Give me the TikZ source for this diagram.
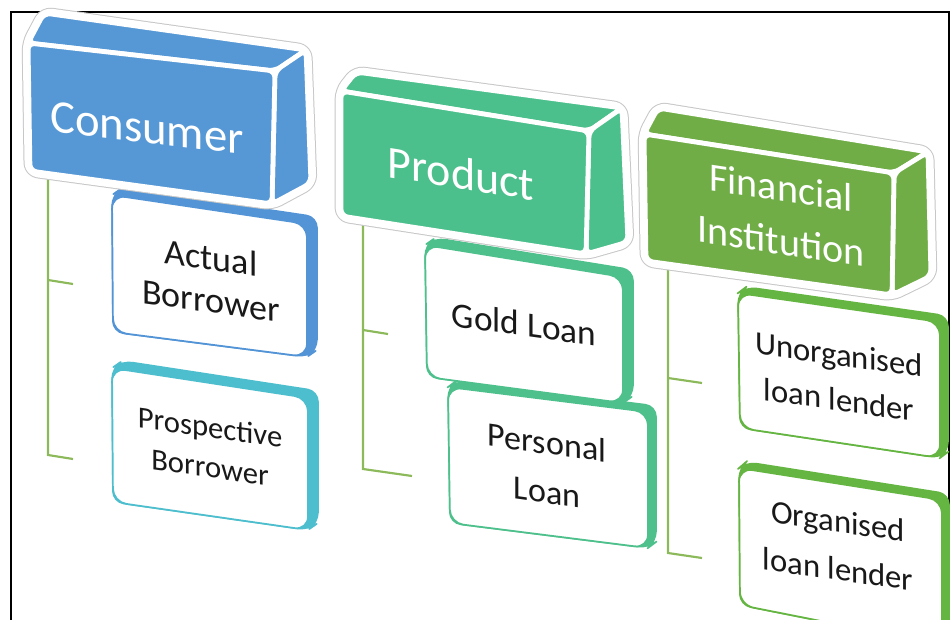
\documentclass[tikz,border=0pt]{standalone}
\usepackage{fontspec}
\setmainfont{Carlito}
\usetikzlibrary{calc}

\definecolor{consumerblue}{RGB}{86,152,214}
\definecolor{productgreen}{RGB}{76,192,140}
\definecolor{instgreen}{RGB}{112,173,71}
\definecolor{leafblue}{RGB}{82,148,214}
\definecolor{leafteal}{RGB}{77,190,205}
\definecolor{leafmint}{RGB}{78,192,140}
\definecolor{leafgreen}{RGB}{100,181,65}
\definecolor{linkgreen}{RGB}{140,185,90}
\definecolor{inktext}{RGB}{25,25,25}

% 3D header block: colour, front TL, front TR, front BR, front BL, back TL, back TR, back BR
% (each closed outline starts half-way along an edge so every corner is rounded)
\newcommand{\cubehead}[8]{%
  \draw[headhalo] ($#5!0.5!#2$) -- #2 -- #6 -- #7 -- #8 -- #4 -- #5 -- cycle;
  \draw[headwhite] ($#5!0.5!#2$) -- #2 -- #6 -- #7 -- #8 -- #4 -- #5 -- cycle;
  \filldraw[headface,fill=#1] ($#2!0.5!#3$) -- #2 -- #6 -- #7 -- #3 -- cycle;
  \filldraw[headface,fill=#1] ($#3!0.5!#4$) -- #3 -- #7 -- #8 -- #4 -- cycle;
  \filldraw[headface,fill=#1] ($#2!0.5!#3$) -- #3 -- #4 -- #5 -- #2 -- cycle;
}
% shallow 3D child card: colour, TL, TR, BR, BL, depth offset
\newcommand{\leafcard}[6]{%
  \filldraw[leafback,fill=#1,draw=#1] ($#5!0.5!#2$) -- #2 -- ($#2+#6$) -- ($#3+#6$) -- ($#4+#6$) -- #4 -- #5 -- cycle;
  \filldraw[leafface,draw=#1] ($#2!0.5!#3$) -- #3 -- #4 -- #5 -- #2 -- cycle;
}

\begin{document}
\begin{tikzpicture}[x=0.75pt,y=-0.75pt,
  headhalo/.style={draw=black!22,fill=white,line width=9.5pt,line join=round,rounded corners=6pt},
  headwhite/.style={draw=white,fill=white,line width=8pt,line join=round,rounded corners=6pt},
  headface/.style={draw=white,line width=3.6pt,line join=round,rounded corners=5pt},
  leafback/.style={line width=1.2pt,line join=round,rounded corners=8pt},
  leafface/.style={fill=white,line width=1.3pt,line join=round,rounded corners=10pt},
  headtext/.style={text=white,align=center,inner sep=0pt},
  leaftext/.style={text=inktext,align=center,inner sep=0pt},
  link/.style={draw=linkgreen,line width=1.6pt}]

\useasboundingbox (0,0) rectangle (952,620);
\fill[white] (0,0) rectangle (952,620);
\draw[line width=1.3pt] (11,620) -- (11,12) -- (949,12) -- (949,620);

% tree connectors
\coordinate (c-top) at (48,176);
\coordinate (c-bot) at (48,455);
\coordinate (c-j1) at (48,280);
\coordinate (c-e1) at (73,284);
\coordinate (c-e2) at (73,459);
\draw[link] (c-top) -- (c-bot) -- (c-e2);
\draw[link] (c-j1) -- (c-e1);

\coordinate (p-top) at (363,215);
\coordinate (p-bot) at (363,469);
\coordinate (p-j1) at (363,330);
\coordinate (p-e1) at (388,334);
\coordinate (p-e2) at (412,476);
\draw[link] (p-top) -- (p-bot) -- (p-e2);
\draw[link] (p-j1) -- (p-e1);

\coordinate (f-top) at (668,255);
\coordinate (f-bot) at (668,553);
\coordinate (f-j1) at (668,378);
\coordinate (f-e1) at (702,383);
\coordinate (f-e2) at (702,558);
\draw[link] (f-top) -- (f-bot) -- (f-e2);
\draw[link] (f-j1) -- (f-e1);

% child cards
\leafcard{leafblue}{(112,195)}{(307,224)}{(307,357)}{(113,332)}{(10,-7)}
\leafcard{leafteal}{(112,368)}{(308,398)}{(308,530)}{(113,502)}{(10,-7)}
\leafcard{leafmint}{(448,387)}{(648,412)}{(648,548)}{(450,523)}{(8,-6)}
\leafcard{leafmint}{(425,245)}{(623,277)}{(623,403)}{(427,377)}{(10,-7)}
\leafcard{leafgreen}{(738,293)}{(940,322)}{(940,458)}{(740,428)}{(8,-6)}
\leafcard{leafgreen}{(739,468)}{(942,500)}{(942,645)}{(740,605)}{(7,-6)}

\node[leaftext,font=\fontsize{27}{32}\selectfont,yslant=-0.14] (actual) at (211,279) {Actual\\Borrower};
\node[leaftext,font=\fontsize{23}{30}\selectfont,yslant=-0.14] (prospective) at (210,447) {Prospective\\Borrower};
\node[leaftext,font=\fontsize{26.5}{32}\selectfont,yslant=-0.14] (gold) at (524,324) {Gold Loan};
\node[leaftext,font=\fontsize{25.5}{37}\selectfont,yslant=-0.14] (personal) at (547,467) {Personal\\Loan};
\node[leaftext,font=\fontsize{24.5}{34}\selectfont,yslant=-0.14] (unorganised) at (839,377) {Unorganised\\loan lender};
\node[leaftext,font=\fontsize{24.5}{36}\selectfont,yslant=-0.14] (organised) at (838,545) {Organised\\loan lender};

% header blocks
\cubehead{consumerblue}{(28,43)}{(275,71)}{(272,204)}{(30,171)}{(44,13)}{(306,50)}{(311,183)}
\cubehead{productgreen}{(341,91)}{(589,131)}{(586,254)}{(341,216)}{(356,72)}{(622,108)}{(628,242)}
\cubehead{instgreen}{(644,134)}{(894,173)}{(892,295)}{(646,261)}{(658,108)}{(928,152)}{(931,276)}

\node[headtext,font=\fontsize{35}{40}\selectfont,yslant=-0.12] (consumer) at (147,128) {Consumer};
\node[headtext,font=\fontsize{34.5}{40}\selectfont,yslant=-0.16] (product) at (461,173) {Product};
\node[headtext,font=\fontsize{30}{40}\selectfont,yslant=-0.15] (institution) at (781,214) {Financial\\Institution};

\end{tikzpicture}
\end{document}
